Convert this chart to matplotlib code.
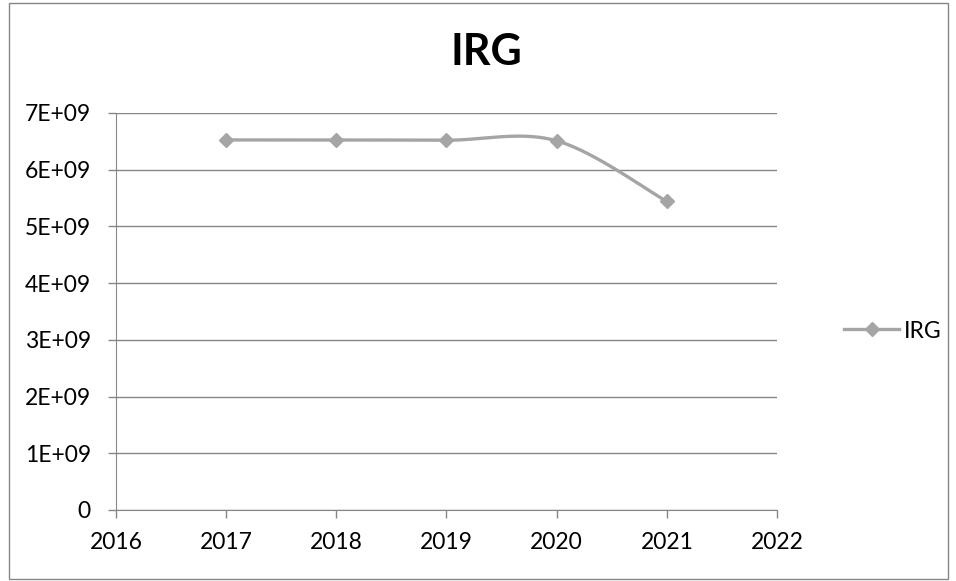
import numpy as np
import matplotlib
matplotlib.use("Agg")
import matplotlib.pyplot as plt
from matplotlib.patches import Rectangle
from matplotlib.lines import Line2D

years = [2017, 2018, 2019, 2020, 2021]
values = [6.525e9, 6.525e9, 6.52e9, 6.51e9, 5.44e9]
series_name = "IRG"
title = "IRG"
xticks = [2016, 2017, 2018, 2019, 2020, 2021, 2022]
yticks = [0, 1e9, 2e9, 3e9, 4e9, 5e9, 6e9, 7e9]
ytick_labels = ["0", "1E+09", "2E+09", "3E+09", "4E+09", "5E+09", "6E+09", "7E+09"]

plt.rcParams['font.family'] = ['Lato', 'DejaVu Sans']

def smooth(xs, ys, n=40):
    xs = np.asarray(xs, float); ys = np.asarray(ys, float)
    px, py = [], []
    m = len(xs)
    for i in range(m - 1):
        p0 = (xs[max(i-1, 0)], ys[max(i-1, 0)])
        p1 = (xs[i], ys[i]); p2 = (xs[i+1], ys[i+1])
        p3 = (xs[min(i+2, m-1)], ys[min(i+2, m-1)])
        c1 = (p1[0] + (p2[0]-p0[0])/6, p1[1] + (p2[1]-p0[1])/6)
        c2 = (p2[0] - (p3[0]-p1[0])/6, p2[1] - (p3[1]-p1[1])/6)
        t = np.linspace(0, 1, n)
        bx = (1-t)**3*p1[0] + 3*(1-t)**2*t*c1[0] + 3*(1-t)*t**2*c2[0] + t**3*p2[0]
        by = (1-t)**3*p1[1] + 3*(1-t)**2*t*c1[1] + 3*(1-t)*t**2*c2[1] + t**3*p2[1]
        px.extend(bx); py.extend(by)
    return np.array(px), np.array(py)

fig = plt.figure(figsize=(9.56, 5.81), dpi=100)
ax = fig.add_axes([116/956, 1-510/581, 661/956, 397/581])

color = '#A5A5A5'
sx, sy = smooth(years, values)
ax.plot(sx, sy, color=color, lw=2.4, solid_capstyle='round', zorder=3)
ax.plot(years, values, linestyle='none', marker='D', markersize=7.5, color=color, zorder=4)

ax.set_xlim(2016, 2022)
ax.set_ylim(0, 7e9)
ax.set_xticks(xticks)
ax.set_xticklabels([str(x) for x in xticks])
ax.set_yticks(yticks)
ax.set_yticklabels(ytick_labels)
ax.grid(axis='y', color='#868686', lw=1)
ax.set_axisbelow(True)
for s in ['top', 'right']:
    ax.spines[s].set_visible(False)
for s in ['left', 'bottom']:
    ax.spines[s].set_color('#868686')
ax.tick_params(axis='both', colors='#868686', labelcolor='black', labelsize=16.5, length=6, width=1)
ax.tick_params(axis='x', pad=10)
ax.tick_params(axis='y', pad=12)

fig.text(486/956, 1-52/581, title, ha='center', va='center', fontsize=31, fontweight='bold')

handle = Line2D([], [], color=color, lw=2.4, marker='D', markersize=7.5)
fig.legend([handle], [series_name], loc='center left', bbox_to_anchor=(844/956, 1-331/581),
           frameon=False, fontsize=16.5, handlelength=2.4, handletextpad=0.2,
           borderaxespad=0, borderpad=0)

fig.add_artist(Rectangle((8.5/956, 2.5/581), 939/956, 576/581, transform=fig.transFigure,
                         fill=False, edgecolor='#868686', lw=1))

fig.savefig('out.png', dpi=100)
